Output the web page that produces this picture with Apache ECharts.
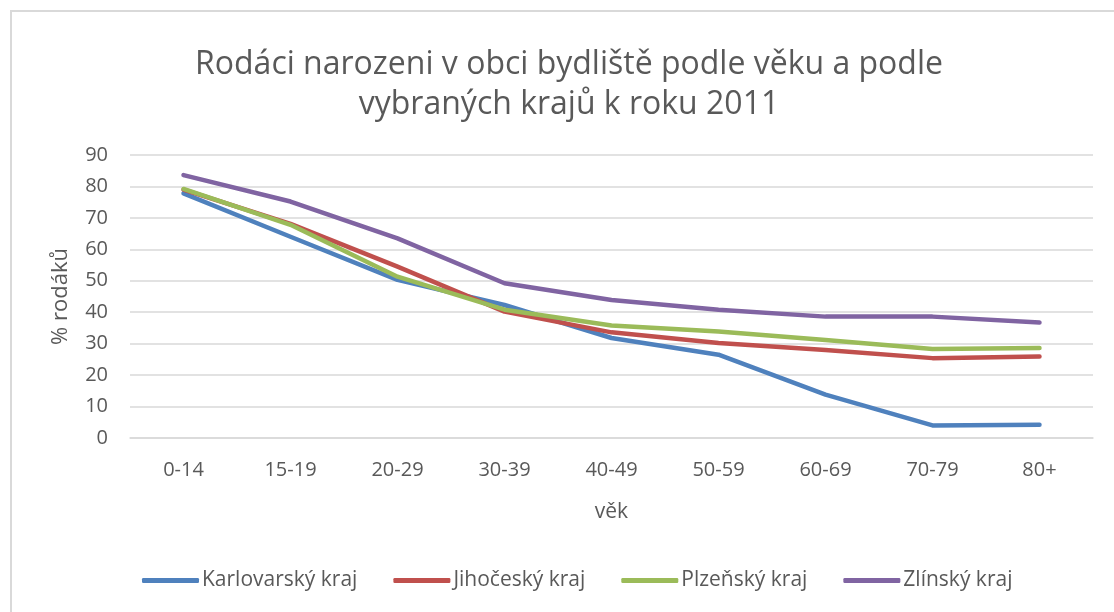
<!DOCTYPE html>
<html>
<head>
<meta charset="utf-8">
<script src="https://cdn.jsdelivr.net/npm/echarts@6/dist/echarts.min.js"></script>
<style>
	html, body { margin: 0; padding: 0; background: #fff; overflow: hidden; }
	#chart { width: 1114px; height: 612px; }
</style>
</head>
<body>
<div id="chart"></div>
<script type="text/javascript">
	// vekove skupiny a podily rodaku (%)
	var categories = ['0-14', '15-19', '20-29', '30-39', '40-49', '50-59', '60-69', '70-79', '80+'];
	var karlovarsky = [77.8, 64.0, 50.3, 42.3, 31.8, 26.5, 13.8, 4.0, 4.2];
	var jihocesky   = [79.0, 68.1, 54.5, 40.2, 33.6, 30.2, 28.0, 25.4, 25.9];
	var plzensky    = [79.2, 67.8, 51.3, 40.8, 35.8, 33.9, 31.2, 28.3, 28.6];
	var zlinsky     = [83.6, 75.2, 63.5, 49.2, 43.9, 40.8, 38.6, 38.6, 36.7];
	var yTicks = [0, 10, 20, 30, 40, 50, 60, 70, 80, 90];

	var textColor = '#595959';
	var font = 'Open Sans';

	function line(name, data, color) {
		return {
			name: name,
			type: 'line',
			data: data,
			showSymbol: false,
			symbol: 'none',
			lineStyle: { width: 4.5, color: color, cap: 'round', join: 'round' },
			itemStyle: { color: color }
		};
	}

	var myChart = echarts.init(document.getElementById('chart'), null, { renderer: 'canvas' });
	var option = {
		animation: false,
		backgroundColor: '#fff',
		textStyle: { fontFamily: font },
		title: {
			text: 'Rodáci narozeni v obci bydliště podle věku a podle\nvybraných krajů k roku 2011',
			left: 564,
			textAlign: 'center',
			top: 40,
			textStyle: { color: textColor, fontSize: 32, fontWeight: 'normal', fontFamily: font, lineHeight: 40 }
		},
		graphic: [{
			type: 'rect',
			shape: { x: 11, y: 11, width: 1300, height: 800 },
			style: { fill: 'none', stroke: '#d9d9d9', lineWidth: 2 },
			silent: true
		}],
		legend: {
			data: ['Karlovarský kraj', 'Jihočeský kraj', 'Plzeňský kraj', 'Zlínský kraj'],
			left: 137,
			top: 565,
			itemWidth: 57,
			itemHeight: 5,
			itemGap: 36,
			icon: 'roundRect',
			textStyle: { color: textColor, fontSize: 21, fontFamily: font, padding: [0, 0, 0, -2] }
		},
		grid: { left: 130, right: 21, top: 155, bottom: 174, containLabel: false },
		xAxis: {
			type: 'category',
			data: categories,
			boundaryGap: true,
			name: 'věk',
			nameLocation: 'middle',
			nameGap: 64,
			nameTextStyle: { color: textColor, fontSize: 21, fontFamily: font },
			axisLine: { show: true, lineStyle: { color: '#d9d9d9', width: 1.5 } },
			axisTick: { show: false },
			axisLabel: { color: textColor, fontSize: 20, fontFamily: font, margin: 22 }
		},
		yAxis: {
			type: 'value',
			min: yTicks[0],
			max: yTicks[yTicks.length - 1],
			interval: 10,
			name: '% rodáků',
			nameLocation: 'middle',
			nameGap: 58,
			nameRotate: 90,
			nameTextStyle: { color: textColor, fontSize: 22, fontFamily: font },
			axisLine: { show: false },
			axisTick: { show: false },
			axisLabel: { color: textColor, fontSize: 20, fontFamily: font, margin: 22 },
			splitLine: { lineStyle: { color: '#d9d9d9', width: 1.5 } }
		},
		series: [
			line('Karlovarský kraj', karlovarsky, '#4f81bd'),
			line('Jihočeský kraj', jihocesky, '#c0504d'),
			line('Plzeňský kraj', plzensky, '#9bbb59'),
			line('Zlínský kraj', zlinsky, '#8064a2')
		]
	};
	myChart.setOption(option);
</script>
</body>
</html>
